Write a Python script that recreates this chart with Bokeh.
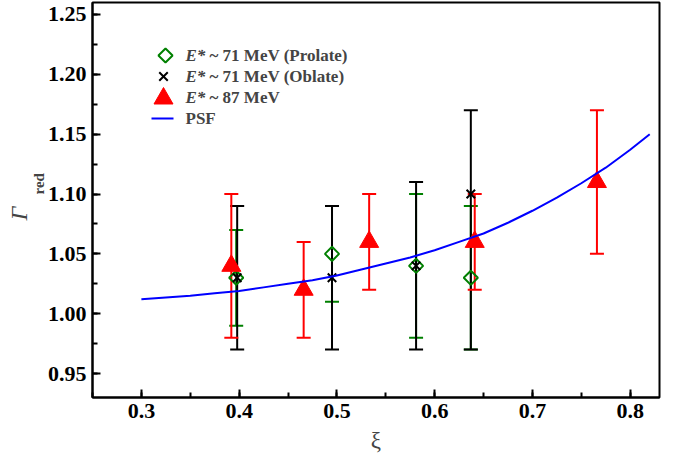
import numpy as np
from bokeh.plotting import figure
from bokeh.models import (ColumnDataSource, Whisker, TeeHead, Label, Range1d, Title,
                          FixedTicker, CustomJSTickFormatter)
from bokeh.embed import file_html
from bokeh.resources import INLINE

# Prolate, E* ~ 71 MeV
xi_pro = [0.397, 0.495, 0.581, 0.637]
g_pro = [1.03, 1.05, 1.04, 1.03]
lo_pro = [0.99, 1.01, 0.98, 0.97]
hi_pro = [1.07, 1.09, 1.10, 1.09]

# Oblate, E* ~ 71 MeV
xi_obl = [0.398, 0.495, 0.581, 0.637]
g_obl = [1.03, 1.03, 1.04, 1.10]
lo_obl = [0.97, 0.97, 0.97, 0.97]
hi_obl = [1.09, 1.09, 1.11, 1.17]

# E* ~ 87 MeV
xi_87 = [0.392, 0.466, 0.533, 0.641, 0.766]
g_87 = [1.04, 1.02, 1.06, 1.06, 1.11]
lo_87 = [0.98, 0.98, 1.02, 1.02, 1.05]
hi_87 = [1.10, 1.06, 1.10, 1.10, 1.17]

# PSF curve
xi_psf = [0.300, 0.325, 0.350, 0.375, 0.400, 0.425, 0.450, 0.475, 0.500, 0.525, 0.550,
          0.575, 0.600, 0.625, 0.650, 0.675, 0.700, 0.725, 0.750, 0.775, 0.800, 0.820]
g_psf = [1.012, 1.0135, 1.015, 1.017, 1.019, 1.022, 1.025, 1.028, 1.032, 1.037, 1.042,
         1.047, 1.053, 1.060, 1.067, 1.076, 1.086, 1.097, 1.109, 1.122, 1.137, 1.150]

x_ticks = [0.3, 0.4, 0.5, 0.6, 0.7, 0.8]
y_ticks = [0.95, 1.00, 1.05, 1.10, 1.15, 1.20, 1.25]

FONT = "Liberation Serif"
GREEN, BLACK, RED, BLUE = "#008000", "#000000", "#ff0000", "#0000ff"

W, H = 678, 455
BL, BR, BT, BB = 92, 19, 2, 58
X0, X1, Y0, Y1 = 0.25, 0.83, 0.93, 1.26

p = figure(width=W, height=H, output_backend="svg", toolbar_location=None,
           x_range=Range1d(X0, X1), y_range=Range1d(Y0, Y1),
           min_border_left=BL, min_border_right=BR, min_border_top=BT, min_border_bottom=BB)
p.grid.visible = False
p.outline_line_color = "black"
p.outline_line_width = 2
p.background_fill_color = "white"
p.border_fill_color = "white"


# canvas pixel -> data coordinate, for placing the legend keys
def px_x(px):
    return X0 + (px - BL) / (W - BL - BR) * (X1 - X0)


def px_y(py):
    return Y1 - (py - BT) / (H - BT - BB) * (Y1 - Y0)


for ax, ticks, step in ((p.xaxis, x_ticks, 0.05), (p.yaxis, y_ticks, 0.025)):
    ax.ticker = FixedTicker(ticks=ticks,
                            minor_ticks=list(np.round(np.arange(0.25, 1.3, step), 4)))
    ax.axis_line_width = 2
    ax.axis_line_color = "black"
    ax.major_tick_in = 8
    ax.major_tick_out = 0
    ax.minor_tick_in = 5
    ax.minor_tick_out = 0
    ax.major_tick_line_width = 2
    ax.minor_tick_line_width = 2
    ax.major_label_text_font = FONT
    ax.major_label_text_font_style = "bold"
    ax.major_label_text_font_size = "22px"
    ax.major_label_text_color = "black"
    ax.major_label_standoff = 6

p.yaxis.formatter = CustomJSTickFormatter(code="return tick.toFixed(2);")
p.xaxis.formatter = CustomJSTickFormatter(code="return tick.toFixed(1);")

p.xaxis.axis_label = "ξ"
p.xaxis.axis_label_text_font = FONT
p.xaxis.axis_label_text_font_style = "normal"
p.xaxis.axis_label_text_font_size = "23px"
p.xaxis.axis_label_standoff = 7


def errbars(xs, lo, hi, color, width):
    src = ColumnDataSource(dict(x=xs, lo=lo, hi=hi))
    w = Whisker(source=src, base="x", lower="lo", upper="hi", dimension="height",
                line_color=color, line_width=width,
                upper_head=TeeHead(size=14, line_color=color, line_width=width),
                lower_head=TeeHead(size=14, line_color=color, line_width=width))
    p.add_layout(w)


errbars(xi_pro, lo_pro, hi_pro, GREEN, 2)
errbars(xi_obl, lo_obl, hi_obl, BLACK, 2)
errbars(xi_87, lo_87, hi_87, RED, 2)

pro_style = dict(marker="square", angle=np.pi / 4, size=10, fill_color=None,
                 line_color=GREEN, line_width=2)
obl_style = dict(marker="x", size=12, line_color=BLACK, line_width=2)
e87_style = dict(marker="triangle", size=19, fill_color=RED, line_color=RED)

p.scatter(xi_pro, g_pro, **pro_style)
p.scatter(xi_obl, g_obl, **obl_style)
p.scatter(xi_87, g_87, **e87_style)
p.line(xi_psf, g_psf, line_color=BLUE, line_width=2)

# legend, drawn by hand so that the keys keep their plotted size
rows = [55, 76, 97, 118]
key_x = 163
p.scatter([px_x(key_x + 2)], [px_y(rows[0])], **pro_style)
p.scatter([px_x(key_x)], [px_y(rows[1])], **obl_style)
p.scatter([px_x(key_x)], [px_y(rows[2] + 1)], **e87_style)
p.line([px_x(151), px_x(173)], [px_y(rows[3])] * 2, line_color=BLUE, line_width=2)

legend_texts = [("E*", "~ 71 MeV (Prolate)"), ("E*", "~ 71 MeV (Oblate)"),
                ("E*", "~ 87 MeV"), ("", "PSF")]
for row, (ital, rest) in zip(rows, legend_texts):
    if ital:
        p.add_layout(Label(x=px_x(185), y=px_y(row), text=ital, text_font=FONT,
                           text_font_style="bold italic", text_font_size="17px",
                           text_baseline="middle", text_align="left"))
        p.add_layout(Label(x=px_x(209), y=px_y(row), text=rest, text_font=FONT,
                           text_font_style="bold", text_font_size="17px",
                           text_baseline="middle", text_align="left"))
    else:
        p.add_layout(Label(x=px_x(185), y=px_y(row), text=rest, text_font=FONT,
                           text_font_style="bold", text_font_size="17px",
                           text_baseline="middle", text_align="left"))

# y-axis label: italic Gamma with bold subscript, as titles in the left panel
p.add_layout(Title(text="red", align="left", offset=203, standoff=-5,
                   text_font=FONT, text_font_style="bold", text_font_size="15px"), "left")
p.add_layout(Title(text="Γ", align="left", offset=177, standoff=0,
                   text_font=FONT, text_font_style="italic", text_font_size="24px"), "left")

open("out.html", "w").write(file_html(p, INLINE))
